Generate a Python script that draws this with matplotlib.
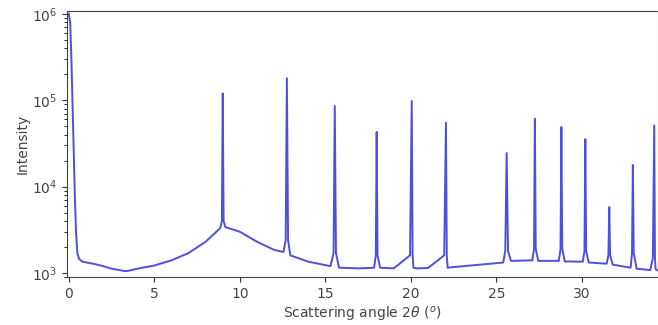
import matplotlib
matplotlib.use("Agg")
import matplotlib.pyplot as plt

# Polyline vertices (2theta in degrees, intensity)
two_theta = [0.0, 0.08, 0.15, 0.25, 0.35, 0.42, 0.5, 0.6, 0.8, 1.5, 2.0, 2.5, 3.3, 3.5, 4.0,
             5.0, 6.0, 7.0, 8.0, 8.85, 8.95, 9.0, 9.05, 9.15, 10.0, 11.0, 12.0, 12.55,
             12.68, 12.75, 12.82, 12.95, 14.0, 15.3, 15.48, 15.55, 15.62, 15.8, 17.0,
             17.85, 17.95, 18.0, 18.05, 18.2, 19.0, 19.95, 20.05, 20.1, 20.15, 20.3,
             21.0, 21.95, 22.05, 22.1, 22.15, 22.3, 23.5, 25.4, 25.52, 25.6, 25.68,
             25.85, 27.1, 27.2, 27.25, 27.3, 27.45, 28.65, 28.75, 28.8, 28.85, 29.0,
             30.05, 30.15, 30.2, 30.25, 30.4, 31.45, 31.55, 31.6, 31.65, 31.8, 32.5,
             32.85, 32.93, 32.98, 33.03, 33.2, 34.0, 34.15, 34.23, 34.27, 34.31, 34.5]
intensity = [1.0e6, 8.0e5, 3.0e5, 5.0e4, 8.0e3, 3.0e3, 1.7e3, 1.45e3, 1.35e3, 1.27e3,
             1.2e3, 1.12e3, 1.05e3, 1.06e3, 1.12e3, 1.22e3, 1.4e3, 1.7e3, 2.3e3, 3.3e3,
             4.0e3, 1.2e5, 4.0e3, 3.4e3, 3.0e3, 2.3e3, 1.85e3, 1.75e3, 2.4e3, 1.8e5,
             2.4e3, 1.6e3, 1.35e3, 1.2e3, 1.7e3, 8.6e4, 1.7e3, 1.15e3, 1.13e3, 1.15e3,
             1.6e3, 4.3e4, 1.6e3, 1.15e3, 1.13e3, 1.6e3, 9.8e4, 1.6e3, 1.15e3, 1.13e3,
             1.14e3, 1.6e3, 5.5e4, 1.6e3, 1.15e3, 1.16e3, 1.22e3, 1.32e3, 1.8e3, 2.45e4,
             1.8e3, 1.38e3, 1.4e3, 1.9e3, 6.1e4, 1.9e3, 1.38e3, 1.38e3, 1.9e3, 4.9e4,
             1.9e3, 1.36e3, 1.35e3, 1.8e3, 3.55e4, 1.8e3, 1.32e3, 1.28e3, 1.6e3, 5.8e3,
             1.6e3, 1.25e3, 1.18e3, 1.15e3, 1.7e3, 1.78e4, 1.7e3, 1.12e3, 1.08e3, 1.5e3,
             5.1e4, 1.5e3, 1.1e3, 1.05e3]

x_ticks = [0, 5, 10, 15, 20, 25, 30]

fig = plt.figure(figsize=(6.58, 3.25), dpi=100)
ax = fig.add_axes([0.102, 0.148, 0.898, 0.818])
ax.plot(two_theta, intensity, color="#3030d8", lw=1.4, alpha=0.85)
ax.set_yscale("log")
ax.set_xlim(-0.1, 34.45)
ax.set_ylim(9.0e2, 1.08e6)
ax.set_xticks(x_ticks)
ax.tick_params(labelsize=10, colors="#333333", labelcolor="#444444")
ax.set_xlabel(r"Scattering angle 2$\theta$ ($^o$)", fontsize=10, color="#444444", labelpad=3)
ax.set_ylabel("Intensity", fontsize=10, color="#444444", labelpad=2)
for s in ax.spines.values():
    s.set_color("#444444")
fig.savefig("out.png", dpi=100)
